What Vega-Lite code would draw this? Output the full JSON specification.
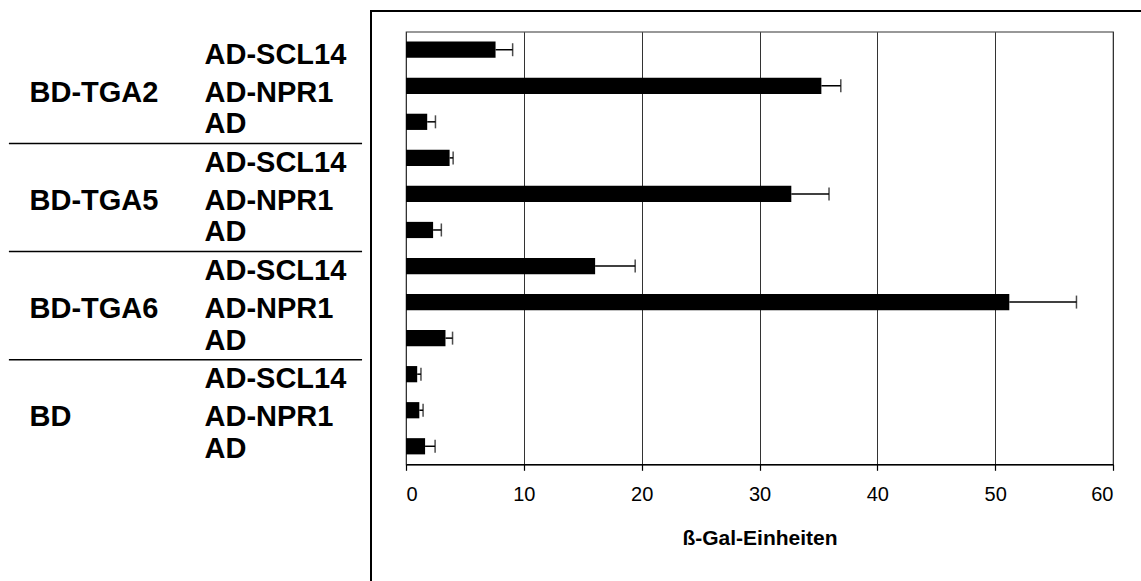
{
  "$schema": "https://vega.github.io/schema/vega-lite/v6.json",
  "autosize": {"type": "none"},
  "padding": {"left": 406, "top": 31.7, "right": 28, "bottom": 116.7},
  "width": 707,
  "height": 432.6,
  "background": "white",
  "config": {
    "view": {"stroke": "#333333", "strokeWidth": 1.2},
    "font": "Liberation Sans"
  },
  "data": {
    "values": [
      {"probe": "BD-TGA2 / AD-SCL14", "gruppe": "BD-TGA2", "konstrukt": "AD-SCL14", "mittel": 7.6, "obergrenze": 9.05},
      {"probe": "BD-TGA2 / AD-NPR1", "gruppe": "BD-TGA2", "konstrukt": "AD-NPR1", "mittel": 35.25, "obergrenze": 36.9},
      {"probe": "BD-TGA2 / AD", "gruppe": "BD-TGA2", "konstrukt": "AD", "mittel": 1.8, "obergrenze": 2.5},
      {"probe": "BD-TGA5 / AD-SCL14", "gruppe": "BD-TGA5", "konstrukt": "AD-SCL14", "mittel": 3.7, "obergrenze": 4.0},
      {"probe": "BD-TGA5 / AD-NPR1", "gruppe": "BD-TGA5", "konstrukt": "AD-NPR1", "mittel": 32.7, "obergrenze": 35.9},
      {"probe": "BD-TGA5 / AD", "gruppe": "BD-TGA5", "konstrukt": "AD", "mittel": 2.3, "obergrenze": 3.0},
      {"probe": "BD-TGA6 / AD-SCL14", "gruppe": "BD-TGA6", "konstrukt": "AD-SCL14", "mittel": 16.05, "obergrenze": 19.45},
      {"probe": "BD-TGA6 / AD-NPR1", "gruppe": "BD-TGA6", "konstrukt": "AD-NPR1", "mittel": 51.2, "obergrenze": 56.9},
      {"probe": "BD-TGA6 / AD", "gruppe": "BD-TGA6", "konstrukt": "AD", "mittel": 3.35, "obergrenze": 3.95},
      {"probe": "BD / AD-SCL14", "gruppe": "BD", "konstrukt": "AD-SCL14", "mittel": 0.95, "obergrenze": 1.27},
      {"probe": "BD / AD-NPR1", "gruppe": "BD", "konstrukt": "AD-NPR1", "mittel": 1.13, "obergrenze": 1.45},
      {"probe": "BD / AD", "gruppe": "BD", "konstrukt": "AD", "mittel": 1.62, "obergrenze": 2.47}
    ]
  },
  "layer": [
    {
      "layer": [
        {
          "mark": {"type": "bar", "color": "black", "height": {"band": 0.45}},
          "encoding": {
            "y": {
              "field": "probe", "type": "nominal", "sort": null,
              "scale": {"paddingInner": 0, "paddingOuter": 0},
              "axis": {
                "orient": "left", "title": null, "domain": false, "ticks": false, "grid": false,
                "labelExpr": "split(datum.value, ' / ')[1]",
                "labelAlign": "left", "labelPadding": 202, "labelLimit": 0,
                "labelFont": "Liberation Sans", "labelFontWeight": "bold", "labelFontSize": 29,
                "labelColor": "black", "labelBaseline": "middle",
                "labelOffset": {
                  "condition": [
                    {"test": "indexof(datum.value, 'AD-NPR1') >= 0", "value": 7},
                    {"test": "indexof(datum.value, 'AD-SCL14') >= 0", "value": 5}
                  ],
                  "value": 2.5
                }
              }
            },
            "x": {
              "field": "mittel", "type": "quantitative",
              "scale": {"domain": [0, 60], "nice": false, "zero": true},
              "axis": {
                "title": "ß-Gal-Einheiten", "values": [0, 10, 20, 30, 40, 50, 60],
                "grid": true, "gridColor": "#333333", "gridWidth": 1, "gridOpacity": 1,
                "domainColor": "black", "domainWidth": 1.5,
                "tickColor": "black", "tickSize": 6, "tickWidth": 1.2,
                "labelFont": "Liberation Sans", "labelFontSize": 20, "labelColor": "black", "labelPadding": 14,
                "titleFont": "Liberation Sans", "titleFontSize": 21, "titleFontWeight": "bold",
                "titleColor": "black", "titlePadding": 23
              }
            }
          }
        },
        {
          "mark": {"type": "rule", "color": "black", "strokeWidth": 1.5},
          "encoding": {
            "y": {
              "field": "probe", "type": "nominal", "sort": null,
              "axis": {
                "orient": "left", "title": null, "domain": false, "ticks": false, "grid": false,
                "labelExpr": "split(datum.value, ' / ')[1] == 'AD-NPR1' ? split(datum.value, ' / ')[0] : ''",
                "labelAlign": "left", "labelPadding": 377, "labelLimit": 0,
                "labelFont": "Liberation Sans", "labelFontWeight": "bold", "labelFontSize": 29,
                "labelColor": "black", "labelBaseline": "middle", "labelOffset": 7
              }
            },
            "x": {"field": "mittel", "type": "quantitative"},
            "x2": {"field": "obergrenze"}
          }
        },
        {
          "mark": {"type": "tick", "color": "black", "orient": "vertical", "size": 13, "thickness": 1.5},
          "encoding": {
            "y": {"field": "probe", "type": "nominal", "sort": null, "axis": null},
            "x": {"field": "obergrenze", "type": "quantitative"}
          }
        },
        {
          "description": "separators between the BD groups",
          "mark": {"type": "rule", "color": "black", "strokeWidth": 1.5},
          "encoding": {
            "y": {"field": "probe", "type": "nominal", "sort": null, "bandPosition": 0.1, "axis": null},
            "x": {"datum": -33.7},
            "x2": {"datum": -3.73},
            "strokeOpacity": {
              "condition": {"test": "datum.konstrukt == 'AD-SCL14' && datum.gruppe != 'BD-TGA2'", "value": 1},
              "value": 0
            }
          }
        }
      ],
      "resolve": {"axis": {"y": "independent"}}
    },
    {
      "description": "outer chart frame",
      "mark": {"type": "rect", "fill": null, "stroke": "black", "strokeWidth": 1.3},
      "encoding": {
        "x": {"datum": -2.97},
        "x2": {"datum": 63},
        "y": {"datum": 0, "scale": {"domain": [0, 1], "range": [-20.7, 560]}, "axis": null},
        "y2": {"datum": 1}
      }
    }
  ],
  "resolve": {"scale": {"y": "independent"}}
}
